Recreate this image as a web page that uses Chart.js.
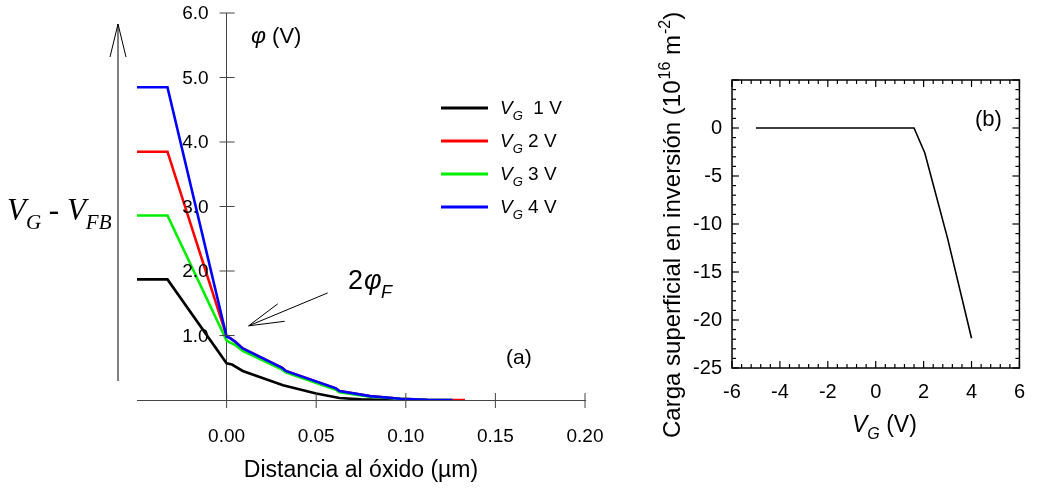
<!DOCTYPE html>
<html>
<head>
<meta charset="utf-8">
<script src="https://cdn.jsdelivr.net/npm/chart.js@4.4.1/dist/chart.umd.min.js"></script>
<style>
  body { margin: 0; background: #fff; width: 1037px; height: 488px; overflow: hidden; position: relative; }
  #phiChart { position: absolute; left: 0; top: 0; }
  #chargeChart { position: absolute; left: 620px; top: 0; }
</style>
</head>
<body>
<canvas id="phiChart" width="620" height="488"></canvas>
<canvas id="chargeChart" width="417" height="488"></canvas>
<script>
// (a) potential vs distance to the oxide
const dist1V = [-0.05, -0.033, 0, 0.003, 0.009, 0.0315, 0.05, 0.063, 0.075, 0.093];
const phi1V  = [1.87, 1.87, 0.57, 0.55, 0.45, 0.23, 0.10, 0.03, 0.01, 0];

const distHi = [-0.05, -0.033, 0, 0.002, 0.005, 0.009, 0.031, 0.033, 0.061, 0.063, 0.08, 0.097, 0.112, 0.126];
const phi2V  = [3.85, 3.85, 0.99, 0.96, 0.90, 0.80, 0.50, 0.45, 0.18, 0.14, 0.06, 0.02, 0.005, 0];
const phi3V  = [2.86, 2.86, 0.92, 0.89, 0.85, 0.76, 0.47, 0.43, 0.16, 0.12, 0.05, 0.02, 0.005, 0];
const phi4V  = [4.85, 4.85, 0.98, 0.96, 0.90, 0.80, 0.50, 0.45, 0.18, 0.14, 0.06, 0.02, 0.005, 0];
const dist2V = distHi.concat([0.133]);
const phi2Vx = phi2V.concat([0]);

const distTicks = [0, 0.05, 0.10, 0.15, 0.20];
const phiTicks = [1, 2, 3, 4, 5, 6];
const legendLabels = ['  1 V', ' 2 V', ' 3 V', ' 4 V'];
const legendColors = ['#000000', '#ff0000', '#00ee00', '#0000ff'];

// (b) inversion charge vs gate voltage
const vgValues = [-5, 1.6, 2.05, 3, 4];
const chargeValues = [0, 0, -2.6, -11.5, -21.9];
const vgTicks = [-6, -4, -2, 0, 2, 4, 6];
const chargeTicks = [-25, -20, -15, -10, -5, 0, 5];

const SANS = '"Liberation Sans", Arial, sans-serif';
const SERIF = '"Liberation Serif", "Times New Roman", serif';

function toPoints(xs, ys) {
  return xs.map((v, i) => ({x: v, y: ys[i]}));
}

// draws main + subscript + rest, returns end x
function subText(ctx, x, y, main, sub, rest, size, font) {
  font = font || SANS;
  ctx.textBaseline = 'alphabetic';
  ctx.textAlign = 'left';
  ctx.font = 'italic ' + size + 'px ' + font;
  ctx.fillText(main, x, y);
  x += ctx.measureText(main).width;
  ctx.font = 'italic ' + Math.round(size * 0.68) + 'px ' + font;
  ctx.fillText(sub, x, y + size * 0.3);
  x += ctx.measureText(sub).width;
  if (rest) {
    ctx.font = size + 'px ' + font;
    ctx.fillText(rest, x, y);
    x += ctx.measureText(rest).width;
  }
  return x;
}

function line(ctx, x1, y1, x2, y2) {
  ctx.beginPath();
  ctx.moveTo(x1, y1);
  ctx.lineTo(x2, y2);
  ctx.stroke();
}

const phiExtras = {
  id: 'phiExtras',
  afterDraw(chart) {
    const {ctx, scales: {x, y}} = chart;
    const px = v => x.getPixelForValue(v);
    const py = v => y.getPixelForValue(v);
    ctx.save();

    // crossing tick marks + y labels on the axis at x = 0
    ctx.strokeStyle = '#444';
    ctx.lineWidth = 1;
    distTicks.forEach(v => line(ctx, px(v), py(0) - 7, px(v), py(0) + 8));
    ctx.fillStyle = '#000';
    ctx.font = '19px ' + SANS;
    ctx.textAlign = 'right';
    ctx.textBaseline = 'middle';
    phiTicks.forEach(v => {
      line(ctx, px(0) - 7, py(v), px(0) + 8, py(v));
      ctx.fillText(v.toFixed(1), px(0) - 18, py(v) + 1);
    });

    // phi (V) label
    ctx.textAlign = 'left';
    ctx.textBaseline = 'alphabetic';
    ctx.font = 'italic 23px ' + SANS;
    ctx.fillText('\u03c6', 251, 43);
    ctx.font = '22px ' + SANS;
    ctx.fillText(' (V)', 266, 43);

    // x axis title
    ctx.font = '23px ' + SANS;
    ctx.textAlign = 'center';
    ctx.fillText('Distancia al \u00f3xido (\u00b5m)', 361, 477);

    // legend
    ctx.textAlign = 'left';
    legendLabels.forEach((lab, i) => {
      const ly = 108 + i * 33;
      ctx.strokeStyle = legendColors[i];
      ctx.lineWidth = 3;
      line(ctx, 441, ly, 488, ly);
      ctx.fillStyle = '#000';
      subText(ctx, 500, ly + 6, 'V', 'G', lab, 19);
    });

    // V_G - V_FB with arrow
    ctx.fillStyle = '#000';
    let tx = subText(ctx, 7, 220, 'V', 'G', ' - ', 31, SERIF);
    subText(ctx, tx, 220, 'V', 'FB', '', 31, SERIF);
    ctx.strokeStyle = '#000';
    ctx.lineWidth = 1;
    line(ctx, 118, 381, 118, 24);
    line(ctx, 118, 24, 110, 57);
    line(ctx, 118, 24, 126, 57);

    // 2 phi_F annotation
    const tipX = px(0.0123), tipY = py(1.15);
    line(ctx, px(0.0564), py(1.66), tipX, tipY);
    line(ctx, px(0.0285), py(1.49), tipX, tipY);
    line(ctx, px(0.0324), py(1.22), tipX, tipY);
    ctx.font = '27px ' + SANS;
    ctx.fillText('2', 348, 289);
    ctx.font = 'italic 27px ' + SANS;
    ctx.fillText('\u03c6', 364, 289);
    ctx.font = 'italic 18px ' + SANS;
    ctx.fillText('F', 381, 298);

    // (a)
    ctx.font = '21px ' + SANS;
    ctx.fillText('(a)', 506, 364);
    ctx.restore();
  }
};

new Chart(document.getElementById('phiChart'), {
  type: 'line',
  data: {
    datasets: [
      {label: 'VG 1 V', data: toPoints(dist1V, phi1V), borderColor: '#000000', order: 3},
      {label: 'VG 2 V', data: toPoints(dist2V, phi2Vx), borderColor: '#ff0000', order: 2},
      {label: 'VG 3 V', data: toPoints(distHi, phi3V), borderColor: '#00ee00', order: 1},
      {label: 'VG 4 V', data: toPoints(distHi, phi4V), borderColor: '#0000ff', order: 0}
    ]
  },
  options: {
    responsive: false,
    animation: false,
    parsing: false,
    elements: {
      line: {borderWidth: 2.6, tension: 0, fill: false},
      point: {radius: 0}
    },
    layout: {padding: {left: 137, right: 35, top: 13, bottom: 0}},
    plugins: {legend: {display: false}, tooltip: {enabled: false}},
    scales: {
      x: {
        type: 'linear',
        min: -0.05, max: 0.20,
        afterBuildTicks: s => { s.ticks = distTicks.map(v => ({value: v})); },
        afterFit: s => { s.height = 88; s.paddingLeft = 0; s.paddingRight = 0; },
        grid: {display: false, drawTicks: false},
        border: {display: true, color: '#444', width: 1},
        ticks: {
          padding: 25, color: '#000',
          font: {family: SANS, size: 19},
          callback: v => v.toFixed(2)
        }
      },
      y: {
        type: 'linear',
        position: {x: 0},
        min: 0, max: 6,
        afterFit: s => { s.width = 0; s.paddingTop = 0; s.paddingBottom = 0; },
        grid: {display: false, drawTicks: false},
        border: {display: true, color: '#444', width: 1},
        ticks: {display: false}
      }
    }
  },
  plugins: [phiExtras]
});

const chargeExtras = {
  id: 'chargeExtras',
  afterDraw(chart) {
    const {ctx, chartArea: a, scales: {x, y}} = chart;
    ctx.save();
    ctx.strokeStyle = '#000';
    ctx.lineWidth = 1.5;
    ctx.strokeRect(a.left, a.top, a.right - a.left, a.bottom - a.top);

    // inward ticks on all four sides
    ctx.lineWidth = 1.2;
    for (let v = -6; v <= 6.001; v += 0.4) {
      const p = x.getPixelForValue(v);
      const major = Math.abs(v / 2 - Math.round(v / 2)) < 0.01;
      const len = major ? 7 : 4;
      line(ctx, p, a.bottom, p, a.bottom - len);
      line(ctx, p, a.top, p, a.top + len);
    }
    for (let v = -25; v <= 5; v += 1) {
      const p = y.getPixelForValue(v);
      const len = v % 5 === 0 ? 7 : 4;
      line(ctx, a.left, p, a.left + len, p);
      line(ctx, a.right, p, a.right - len, p);
    }

    ctx.fillStyle = '#000';
    // (b)
    ctx.font = '22px ' + SANS;
    ctx.textBaseline = 'alphabetic';
    ctx.fillText('(b)', 355, 126);

    // x title
    subText(ctx, 232, 432, 'V', 'G', ' (V)', 23);

    // rotated y title
    ctx.translate(60, 438);
    ctx.rotate(-Math.PI / 2);
    ctx.textAlign = 'left';
    ctx.font = '24px ' + SANS;
    let t = 'Carga superficial en inversi\u00f3n (10';
    ctx.fillText(t, 0, 0);
    let off = ctx.measureText(t).width;
    ctx.font = '16px ' + SANS;
    ctx.fillText('16', off + 1, -10);
    off += ctx.measureText('16').width + 1;
    ctx.font = '24px ' + SANS;
    ctx.fillText(' m', off, 0);
    off += ctx.measureText(' m').width;
    ctx.font = '16px ' + SANS;
    ctx.fillText('-2', off + 1, -10);
    off += ctx.measureText('-2').width + 1;
    ctx.font = '24px ' + SANS;
    ctx.fillText(')', off, 0);
    ctx.restore();
  }
};

new Chart(document.getElementById('chargeChart'), {
  type: 'line',
  data: {
    datasets: [{
      label: 'Carga',
      data: toPoints(vgValues, chargeValues),
      borderColor: '#000',
      borderWidth: 1.6,
      pointRadius: 0,
      tension: 0
    }]
  },
  options: {
    responsive: false,
    animation: false,
    parsing: false,
    layout: {padding: {left: 0, right: 5, top: 80, bottom: 0}},
    plugins: {legend: {display: false}, tooltip: {enabled: false}},
    scales: {
      x: {
        type: 'linear',
        min: -6, max: 6,
        afterBuildTicks: s => { s.ticks = vgTicks.map(v => ({value: v})); },
        afterFit: s => { s.height = 120; },
        grid: {display: false, drawTicks: false},
        border: {display: false},
        ticks: {padding: 12, color: '#000', font: {family: SANS, size: 20}}
      },
      y: {
        type: 'linear',
        min: -25, max: 5,
        afterBuildTicks: s => { s.ticks = chargeTicks.map(v => ({value: v})); },
        afterFit: s => { s.width = 112; },
        grid: {display: false, drawTicks: false},
        border: {display: false},
        ticks: {
          padding: 10, color: '#000', font: {family: SANS, size: 20},
          callback: v => v === 5 ? '' : String(v)
        }
      }
    }
  },
  plugins: [chargeExtras]
});
</script>
</body>
</html>
